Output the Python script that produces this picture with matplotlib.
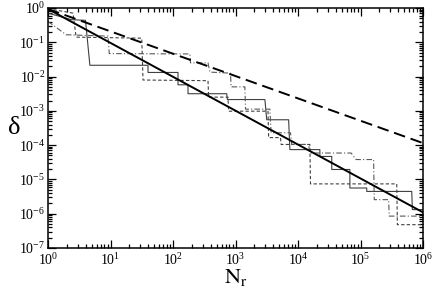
import numpy as np
import matplotlib
matplotlib.use('Agg')
import matplotlib.pyplot as plt
from matplotlib.ticker import LogLocator, NullFormatter

plt.rcParams['font.family'] = ['Liberation Serif', 'DejaVu Serif']
plt.rcParams['mathtext.fontset'] = 'stix'

# fitted power laws (endpoints, log10 values)
fit_logN = [0.0, 6.0]
fit_solid_logd = [-0.03, -5.96]
fit_dashed_logd = [-0.03, -3.94]

# run 1 (thin solid) - log10 N_r, log10 delta
run1_logN = [0, 0.375, 0.60, 0.67, 1.60, 1.60, 2.08, 2.08, 2.24, 2.24, 2.86, 2.87,
             3.47, 3.50, 3.85, 3.87, 4.35, 4.35, 4.54, 4.54, 4.83, 4.83, 5.10, 5.10,
             5.82, 5.83, 6.0]
run1_logd = [-0.15, -0.34, -0.36, -1.67, -1.67, -1.88, -1.88, -2.24, -2.24, -2.50, -2.50, -2.67,
             -2.67, -3.26, -3.26, -4.13, -4.13, -4.33, -4.33, -4.71, -4.71, -5.25, -5.25, -5.35,
             -5.35, -5.88, -5.88]

# run 2 (thin dashed)
run2_logN = [0, 0.40, 0.45, 1.50, 1.52, 2.56, 2.57, 2.88, 2.89, 3.52, 3.53, 3.72, 3.73,
             4.19, 4.20, 5.58, 5.59, 6.0]
run2_logd = [-0.02, -0.15, -0.85, -0.88, -2.10, -2.12, -2.60, -2.60, -3.01, -3.01, -3.78, -3.78, -3.98,
             -3.98, -5.13, -5.13, -6.32, -6.32]

# run 3 (thin dash-dot)
run3_logN = [0, 0.29, 0.96, 0.98, 2.27, 2.28, 2.56, 2.59, 2.92, 2.93, 3.15, 3.16, 3.55, 3.57,
             3.88, 3.90, 4.17, 4.19, 4.85, 4.93, 5.21, 5.22, 5.45, 5.46, 6.0]
run3_logd = [-0.39, -0.78, -0.82, -1.33, -1.34, -1.60, -1.60, -1.87, -1.90, -2.30, -2.30, -2.95, -2.95, -3.64,
             -3.64, -3.98, -3.98, -4.23, -4.23, -4.42, -4.42, -5.59, -5.59, -6.07, -6.07]

fig = plt.figure(figsize=(4.36, 2.91), dpi=100)
ax = fig.add_axes([48/436, 43/291, 375/436, 240/291])

p = lambda v: 10**np.array(v)

ax.plot(p(run1_logN), p(run1_logd), color='0.25', lw=0.8, ls='-')
ax.plot(p(run2_logN), p(run2_logd), color='0.25', lw=0.8, ls=(0, (3, 2)))
ax.plot(p(run3_logN), p(run3_logd), color='0.35', lw=0.8, ls=(0, (5, 2, 1, 2)))
ax.plot(p(fit_logN), p(fit_solid_logd), color='black', lw=1.4, ls='-')
ax.plot(p(fit_logN), p(fit_dashed_logd), color='black', lw=1.4, ls=(0, (6, 3)))

ax.set_xscale('log')
ax.set_yscale('log')
ax.set_xlim(1, 1e6)
ax.set_ylim(1e-7, 1)

ax.xaxis.set_major_locator(LogLocator(base=10, numticks=10))
ax.yaxis.set_major_locator(LogLocator(base=10, numticks=10))
ax.xaxis.set_minor_locator(LogLocator(base=10, subs=np.arange(2, 10), numticks=20))
ax.yaxis.set_minor_locator(LogLocator(base=10, subs=np.arange(2, 10), numticks=20))
ax.xaxis.set_minor_formatter(NullFormatter())
ax.yaxis.set_minor_formatter(NullFormatter())

ax.tick_params(which='both', direction='in', top=True, right=True, labelsize=10, width=0.9)
ax.tick_params(which='major', length=6)
ax.tick_params(which='minor', length=3)
ax.tick_params(axis='x', pad=3)
ax.tick_params(axis='y', pad=2)
for s in ax.spines.values():
    s.set_linewidth(1.1)

ax.set_xlabel(r'$\mathrm{N_r}$', fontsize=16, labelpad=-1)
ax.set_ylabel('δ', fontsize=19, rotation=0, va='center', ha='center')
ax.yaxis.set_label_coords(-0.09, 0.5)

fig.savefig('out.png', dpi=100)
